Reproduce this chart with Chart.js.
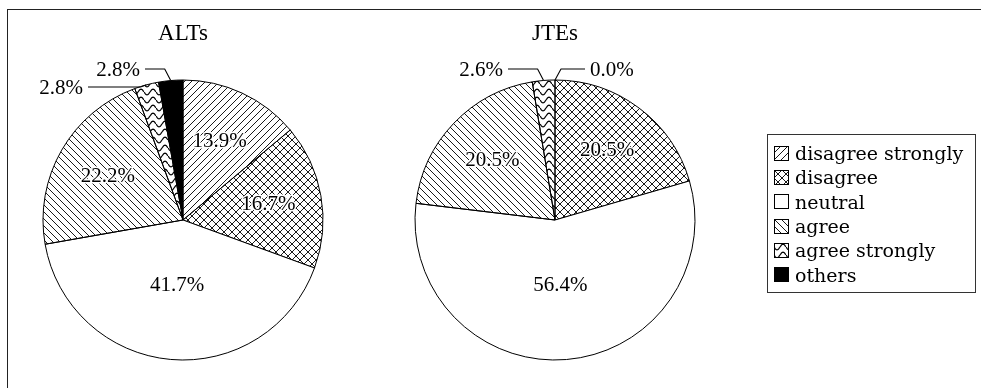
<!DOCTYPE html>
<html>
<head>
<meta charset="utf-8">
<script src="https://cdn.jsdelivr.net/npm/chart.js@4.4.0/dist/chart.umd.min.js"></script>
<style>
  body { margin: 0; background: #fff; width: 981px; height: 388px; overflow: hidden; position: relative; font-family: "Liberation Serif", serif; }
  #frame { position: absolute; left: 7px; top: 9px; width: 1000px; height: 400px; border-top: 1.5px solid #222; border-left: 1.5px solid #222; }
  .pie { position: absolute; top: 0; width: 370px; height: 388px; }
  #legend { position: absolute; left: 767px; top: 134px; width: 209px; height: 159px; border: 1px solid #333; box-sizing: border-box; padding: 6px 0 0 6px; font-family: "DejaVu Serif", serif; font-size: 19px; color: #000; }
  #legend .row { height: 24.3px; display: flex; align-items: center; white-space: nowrap; }
  #legend canvas { margin-right: 6px; }
</style>
</head>
<body>
<div id="frame"></div>
<div class="pie" style="left:0px"><canvas id="alts"></canvas></div>
<div class="pie" style="left:372px"><canvas id="jtes"></canvas></div>
<div id="legend"></div>

<script>
const categories = ['disagree strongly', 'disagree', 'neutral', 'agree', 'agree strongly', 'others'];
const altsValues = [13.9, 16.7, 41.7, 22.2, 2.8, 2.8];
const jtesValues = [0.0, 20.5, 56.4, 20.5, 2.6, 0];
const fillKinds = ['slash', 'cross', 'blank', 'backslash', 'wave', 'solid'];

function makeTile(kind) {
  const c = document.createElement('canvas');
  const size = kind === 'wave' ? [12, 8] : kind === 'cross' ? [8, 8] : [7, 7];
  c.width = size[0]; c.height = size[1];
  const g = c.getContext('2d');
  g.strokeStyle = '#000';
  g.lineWidth = kind === 'wave' ? 1.2 : 0.9;
  const w = size[0], h = size[1];
  g.beginPath();
  if (kind === 'slash' || kind === 'cross') {
    g.moveTo(0, h); g.lineTo(w, 0);
    g.moveTo(-1, 1); g.lineTo(1, -1);
    g.moveTo(w - 1, h + 1); g.lineTo(w + 1, h - 1);
  }
  if (kind === 'backslash' || kind === 'cross') {
    g.moveTo(0, 0); g.lineTo(w, h);
    g.moveTo(w - 1, -1); g.lineTo(w + 1, 1);
    g.moveTo(-1, h - 1); g.lineTo(1, h + 1);
  }
  if (kind === 'wave') {
    for (let x = 0; x <= w; x += 0.5) {
      const y = h / 2 + 2.8 * Math.sin(x / w * Math.PI * 2);
      if (x === 0) g.moveTo(x, y); else g.lineTo(x, y);
    }
  }
  g.stroke();
  return c;
}

function fillFor(ctx, kind) {
  if (kind === 'blank') return '#ffffff';
  if (kind === 'solid') return '#000000';
  return ctx.createPattern(makeTile(kind), 'repeat');
}

// percentage labels, small slices get a leader line
const sliceLabels = {
  id: 'sliceLabels',
  afterDatasetsDraw(chart, args, opts) {
    const ctx = chart.ctx;
    const meta = chart.getDatasetMeta(0);
    const values = chart.data.datasets[0].data;
    ctx.save();
    ctx.font = '21px "Liberation Serif"';
    ctx.textBaseline = 'middle';
    ctx.lineJoin = 'round';
    meta.data.forEach((arc, i) => {
      const p = arc.getProps(['x', 'y', 'startAngle', 'endAngle', 'outerRadius'], true);
      const text = values[i].toFixed(1) + '%';
      const mid = (p.startAngle + p.endAngle) / 2;
      const callout = (opts.callouts || []).find(c => c.index === i);
      if (callout) {
        const ex = p.x + Math.cos(mid) * p.outerRadius;
        const ey = p.y + Math.sin(mid) * p.outerRadius;
        const lx = p.x + callout.dx, ly = p.y + callout.dy;
        const dir = callout.side === 'left' ? -1 : 1;
        ctx.strokeStyle = '#000';
        ctx.lineWidth = 1.1;
        ctx.beginPath();
        ctx.moveTo(lx - dir * 5, ly - 1);
        ctx.lineTo(ex + dir * 6, ly - 1);
        ctx.lineTo(ex, ey);
        ctx.stroke();
        ctx.fillStyle = '#000';
        ctx.textAlign = callout.side === 'left' ? 'right' : 'left';
        ctx.fillText(text, lx, ly);
      } else if (values[i] >= 5) {
        const f = values[i] > 40 ? 0.47 : 0.62;
        const tx = p.x + Math.cos(mid) * p.outerRadius * f;
        const ty = p.y + Math.sin(mid) * p.outerRadius * f;
        ctx.textAlign = 'center';
        ctx.strokeStyle = '#fff';
        ctx.lineWidth = 3;
        ctx.strokeText(text, tx, ty);
        ctx.fillStyle = '#000';
        ctx.fillText(text, tx, ty);
      }
    });
    ctx.restore();
  }
};

function makePie(id, title, values, callouts) {
  const el = document.getElementById(id);
  const ctx = el.getContext('2d');
  return new Chart(el, {
    type: 'pie',
    data: {
      labels: categories,
      datasets: [{
        data: values,
        backgroundColor: fillKinds.map(k => fillFor(ctx, k)),
        borderColor: '#000',
        borderWidth: 1
      }]
    },
    options: {
      responsive: true,
      maintainAspectRatio: false,
      animation: false,
      layout: { padding: { left: 42.5, right: 46.5, top: 0, bottom: 27.5 } },
      plugins: {
        legend: { display: false },
        tooltip: { enabled: false },
        title: {
          display: true,
          text: title,
          color: '#000',
          font: { family: 'Liberation Serif', size: 23, weight: 'normal' },
          padding: { top: 20.2, bottom: 31.7 }
        },
        sliceLabels: { callouts }
      }
    },
    plugins: [sliceLabels]
  });
}

makePie('alts', 'ALTs', altsValues, [
  { index: 4, dx: -100, dy: -132, side: 'left' },
  { index: 5, dx: -43, dy: -150, side: 'left' }
]);
makePie('jtes', 'JTEs', jtesValues, [
  { index: 4, dx: -52, dy: -150, side: 'left' },
  { index: 0, dx: 35, dy: -150, side: 'right' }
]);

// legend with swatches
const legend = document.getElementById('legend');
categories.forEach((name, i) => {
  const row = document.createElement('div');
  row.className = 'row';
  const sw = document.createElement('canvas');
  sw.width = 15; sw.height = 15;
  const g = sw.getContext('2d');
  g.fillStyle = fillFor(g, fillKinds[i]);
  g.fillRect(0, 0, 15, 15);
  g.strokeStyle = '#000';
  g.lineWidth = 1;
  g.strokeRect(0.5, 0.5, 14, 14);
  row.appendChild(sw);
  row.appendChild(document.createTextNode(name));
  legend.appendChild(row);
});
</script>
</body>
</html>
